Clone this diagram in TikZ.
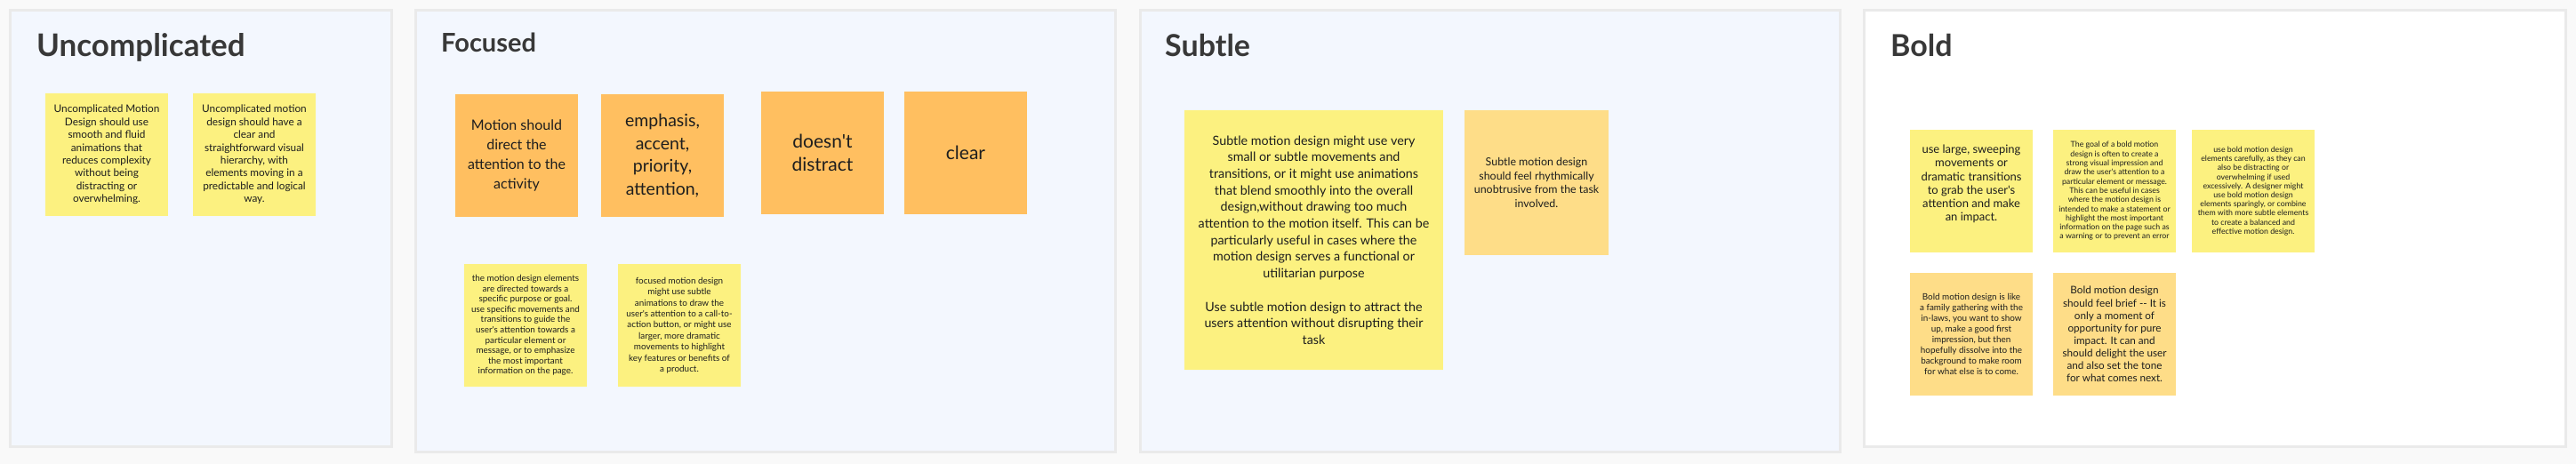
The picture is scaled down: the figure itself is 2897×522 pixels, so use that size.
\documentclass[tikz,border=0pt]{standalone}
\usepackage{fontspec}
\setmainfont{Lato}[Ligatures=TeXOff]
\definecolor{bgc}{HTML}{F9F9F9}
\definecolor{panelborder}{HTML}{EAEAEA}
\definecolor{panelfill}{HTML}{F3F7FE}
\definecolor{titlec}{HTML}{383838}
\definecolor{stext}{HTML}{1E1E1E}
\definecolor{sy}{HTML}{FCF180}
\definecolor{so}{HTML}{FFBF60}
\definecolor{slo}{HTML}{FEDD88}
\tikzset{
  panel/.style={draw=panelborder, line width=3pt, fill=panelfill},
  panelwhite/.style={draw=panelborder, line width=3pt, fill=white},
  ptitle/.style={anchor=base west, inner sep=0pt, text=titlec, font=\bfseries\fontsize{#1}{#1}\selectfont},
  sticky/.style={anchor=north west, inner sep=0pt, outer sep=0pt, minimum width=138pt, minimum height=138pt, align=center, text=stext},
  stickyY/.style={sticky, fill=sy},
  stickyO/.style={sticky, fill=so},
  stickyLO/.style={sticky, fill=slo},
  fs/.style 2 args={font=\fontsize{#1}{#2}\selectfont},
}
\begin{document}
\begin{tikzpicture}[x=1pt, y=-1pt]
\path[fill=bgc] (0,0) rectangle (2897,522);
\useasboundingbox (0,0) rectangle (2897,522);
% panels
\path[panel] (11.5,11.5) rectangle (440.5,502.5);
\path[panel] (467.5,11.5) rectangle (1254.5,508.5);
\path[panel] (1282.5,11.5) rectangle (2069.5,508.5);
\path[panelwhite] (2096.5,11.5) rectangle (2885.5,502.5);
% titles
\node[ptitle=35] (t1) at (41,63) {Uncomplicated};
\node[ptitle=29] (t2) at (496,58.5) {Focused};
\node[ptitle=34] (t3) at (1310,63) {Subtle};
\node[ptitle=34] (t4) at (2126,63) {Bold};
% Uncomplicated
\node[stickyY, fs={11.8}{14.4}] (u1) at (51,105) {Uncomplicated Motion\\Design should use\\smooth and fluid\\animations that\\reduces complexity\\without being\\distracting or\\overwhelming.};
\node[stickyY, fs={11.8}{14.4}] (u2) at (217,105) {Uncomplicated motion\\design should have a\\clear and\\straightforward visual\\hierarchy, with\\elements moving in a\\predictable and logical\\way.};
% Focused
\node[stickyO, fs={16}{21.7}] (f1) at (512,106) {Motion should\\direct the\\attention to the\\activity};
\node[stickyO, fs={19.5}{25.5}] (f2) at (676,106) {emphasis,\\accent,\\priority,\\attention,};
\node[stickyO, fs={21}{26}] (f3) at (856,103) {doesn't\\distract};
\node[stickyO, fs={21}{26}] (f4) at (1017,103) {clear};
\node[stickyY, fs={9.9}{11.6}] (f5) at (522,297) {the motion design elements\\are directed towards a\\specific purpose or goal.\\use specific movements and\\transitions to guide the\\user's attention towards a\\particular element or\\message, or to emphasize\\the most important\\information on the page.};
\node[stickyY, fs={9.9}{12.4}] (f6) at (695,297) {focused motion design\\might use subtle\\animations to draw the\\user's attention to a call-to-\\action button, or might use\\larger, more dramatic\\movements to highlight\\key features or benefits of\\a product.};
% Subtle
\node[stickyY, minimum width=291pt, minimum height=292pt, fs={14.3}{18.7}] (s1) at (1332,124) {Subtle motion design might use very\\small or subtle movements and\\transitions, or it might use animations\\that blend smoothly into the overall\\design,without drawing too much\\attention to the motion itself. This can be\\particularly useful in cases where the\\motion design serves a functional or\\utilitarian purpose\\[18.7pt]Use subtle motion design to attract the\\users attention without disrupting their\\task};
\node[stickyLO, minimum width=162pt, minimum height=163pt, fs={12.4}{15.7}] (s2) at (1647,124) {Subtle motion design\\should feel rhythmically\\unobtrusive from the task\\involved.};
% Bold
\node[stickyY] (b1) at (2148,146) {};
\node[fs={13}{15.2}, align=center, text=stext, inner sep=0pt] (b1t) at ([yshift=8]b1.center) {use large, sweeping\\movements or\\dramatic transitions\\to grab the user's\\attention and make\\an impact.};
\node[stickyY, fs={8.8}{10.3}] (b2) at (2309,146) {The goal of a bold motion\\design is often to create a\\strong visual impression and\\draw the user's attention to a\\particular element or message.\\This can be useful in cases\\where the motion design is\\intended to make a statement or\\highlight the most important\\information on the page such as\\a warning or to prevent an error};
\node[stickyY, fs={8.8}{10.2}] (b3) at (2465,146) {use bold motion design\\elements carefully, as they can\\also be distracting or\\overwhelming if used\\excessively. A designer might\\use bold motion design\\elements sparingly, or combine\\them with more subtle elements\\to create a balanced and\\effective motion design.};
\node[stickyLO, fs={9.9}{12.1}] (b4) at (2148,307) {Bold motion design is like\\a family gathering with the\\in-laws, you want to show\\up, make a good first\\impression, but then\\hopefully dissolve into the\\background to make room\\for what else is to come.};
\node[stickyLO, fs={11.7}{14.1}] (b5) at (2309,307) {Bold motion design\\should feel brief -{}- It is\\only a moment of\\opportunity for pure\\impact. It can and\\should delight the user\\and also set the tone\\for what comes next.};
\end{tikzpicture}
\end{document}
